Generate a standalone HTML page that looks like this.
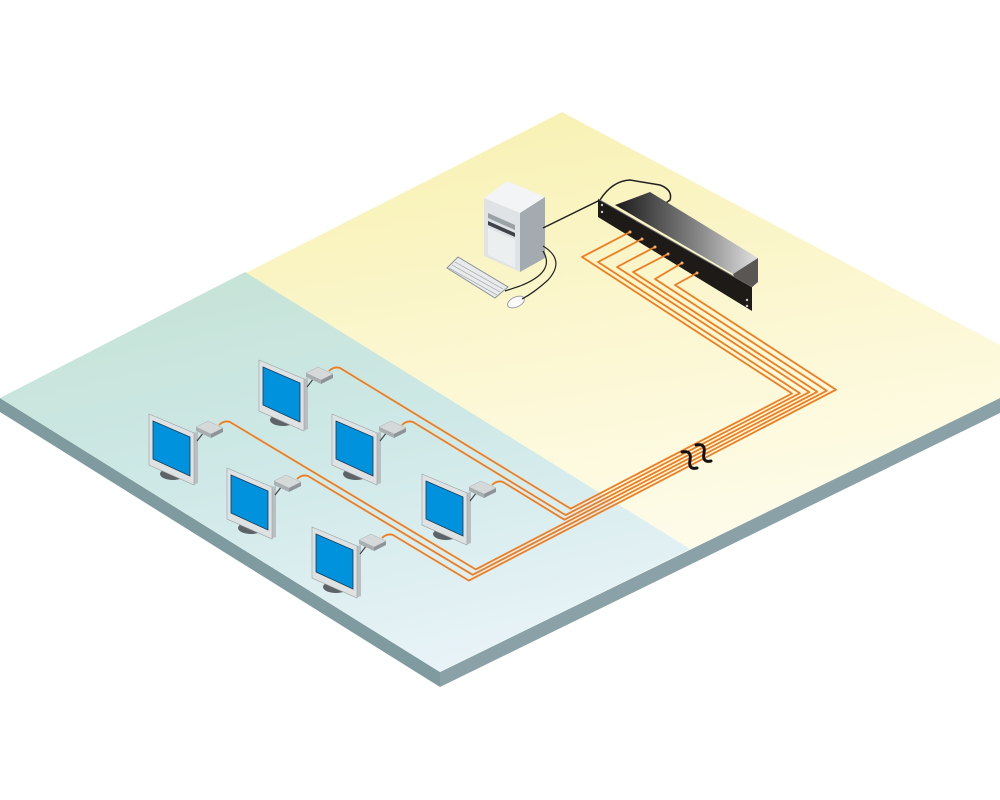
<!DOCTYPE html>
<html><head><meta charset="utf-8"><style>html,body{margin:0;padding:0;background:#fff}svg{display:block}</style></head>
<body>
<svg width="1000" height="800" viewBox="0 0 1000 800" xmlns="http://www.w3.org/2000/svg">
<defs>
<linearGradient id="yel" x1="0" y1="0" x2="0.3" y2="1">
<stop offset="0" stop-color="#f7efaa"/><stop offset="0.6" stop-color="#fcf8d6"/><stop offset="1" stop-color="#fefdf0"/></linearGradient>
<linearGradient id="blu" x1="0.2" y1="0" x2="0.6" y2="1">
<stop offset="0" stop-color="#c6e3d6"/><stop offset="0.45" stop-color="#cde8e6"/><stop offset="1" stop-color="#e8f3f8"/></linearGradient>
<linearGradient id="sw" x1="0" y1="0" x2="1" y2="0">
<stop offset="0" stop-color="#1a1a1a"/><stop offset="0.6" stop-color="#8a8a8a"/><stop offset="1" stop-color="#e0e0e0"/></linearGradient>
<g id="mon">
<ellipse cx="20" cy="53" rx="13" ry="6" fill="#5d6366"/>
<polygon points="40,12 45,11 45,62 40,64" fill="#b9bec1"/>
<polygon points="-4,-7 41,12 41,64 -4,44" fill="#dfe2e3" stroke="#9aa0a3" stroke-width="0.6"/>
<polygon points="0,0 37,16 37,55 0,38" fill="#0092dd" stroke="#1a3a55" stroke-width="0.8"/>
<line x1="44" y1="20" x2="51" y2="11" stroke="#444" stroke-width="1.2"/>
<polygon points="43,6 43,10 58,17 58,13" fill="#a9aeb0"/>
<polygon points="58,13 58,17 70,11 70,7" fill="#8d9396"/>
<polygon points="43,6 55,0 70,7 58,13" fill="#d6d9da" stroke="#a0a5a8" stroke-width="0.4"/>
</g>
</defs>

<polygon points="0,398 440,672 440,687 0,412" fill="#7f9ba0"/>
<polygon points="440,672 1000,398 1000,413 440,687" fill="#8aa2a7"/>
<polygon points="0,398 562,112 1000,345 1000,398 440,672" fill="url(#yel)"/>
<polygon points="0,398 245,272 690,549 440,672" fill="url(#blu)"/>

<!-- computer -->
<polygon points="484,198 507,181 545,197 520,213" fill="#f2f4f5"/>
<polygon points="484,198 520,213 520,272 484,256" fill="#dfe3e5"/>
<polygon points="520,213 545,197 545,258 520,272" fill="#a3abb0"/>
<polygon points="488,213 515,225 515,230 488,218" fill="#9aa2a6"/>
<polygon points="488,221 515,233 515,237 488,225" fill="#3e4448"/>
<polygon points="488,228 515,240 515,268 488,255" fill="#eceff0"/>
<polygon points="447,268 458,257 508,287 495,298" fill="#e8eaeb" stroke="#8c9396" stroke-width="1"/>
<g stroke="#9aa0a4" stroke-width="0.7">
<line x1="452" y1="265" x2="500" y2="292"/><line x1="455" y1="262" x2="503" y2="289"/><line x1="449" y1="268" x2="497" y2="295"/>
</g>
<ellipse cx="516" cy="302" rx="9" ry="5" fill="#fafafa" stroke="#9aa0a4" stroke-width="1" transform="rotate(-25 516 302)"/>
<path d="M543,228 L600,200 Q612,181 630,180 L660,185 Q673,190 670,200 L663,205" fill="none" stroke="#222" stroke-width="1.5"/>
<path d="M543,246 Q566,260 548,280 Q535,292 522,299" fill="none" stroke="#222" stroke-width="1.2"/>
<path d="M543,251 Q556,272 520,286 L505,291" fill="none" stroke="#222" stroke-width="1.2"/>

<!-- switch -->
<polygon points="615,205 650,192 758,258 733,274" fill="url(#sw)"/>
<polygon points="733,274 758,258 758,282 742,296" fill="#5a5654"/>
<polygon points="598,199 752,287 752,311 598,217" fill="#1d1a18"/>
<line x1="598" y1="199" x2="752" y2="287" stroke="#666" stroke-width="1"/>
<circle cx="602" cy="205" r="1.2" fill="#ccc"/><circle cx="602" cy="212" r="1.2" fill="#ccc"/>
<circle cx="747" cy="300" r="1.2" fill="#ccc"/><circle cx="747" cy="306" r="1.2" fill="#ccc"/>

<g fill="none" stroke="#ef7d1f" stroke-width="1.8" stroke-linejoin="round">
<path d="M630,232 L582,257 L792,393.5 L570.6,508.7 L340,368 Q334,366 329,371"/>
<path d="M642,239 L598,262 L799.9,393.2 L565.6,515.1 L413,422 Q407,420 402,425"/>
<path d="M655,247 L617,267 L809.4,392.1 L564.4,519.7 L503,482 Q497,480 492,485"/>
<path d="M668,254 L633,272 L817.3,391.8 L475.7,569.4 L230,422 Q224,420 219,425"/>
<path d="M682,263 L655,279 L826.8,390.7 L472.7,574.8 L308,476 Q302,474 297,479"/>
<path d="M697,273 L675,285 L836,389.7 L468.9,580.6 L393,535 Q387,533 382,538"/>
</g>
<g fill="#f7b06a"><circle cx="630" cy="232" r="1.5"/><circle cx="642" cy="239" r="1.5"/><circle cx="655" cy="247" r="1.5"/><circle cx="668" cy="254" r="1.5"/><circle cx="682" cy="263" r="1.5"/><circle cx="697" cy="273" r="1.5"/></g>
<g fill="none" stroke="#111" stroke-width="3" stroke-linecap="round">
<path d="M682,452 Q692,450 690,460 Q688,470 697,468"/>
<path d="M696,445 Q706,443 704,453 Q702,463 711,461"/>
</g>

<use href="#mon" x="263" y="367"/>
<use href="#mon" x="153" y="421"/>
<use href="#mon" x="336" y="421"/>
<use href="#mon" x="231" y="475"/>
<use href="#mon" x="426" y="481"/>
<use href="#mon" x="316" y="534"/>
</svg>
</body></html>
